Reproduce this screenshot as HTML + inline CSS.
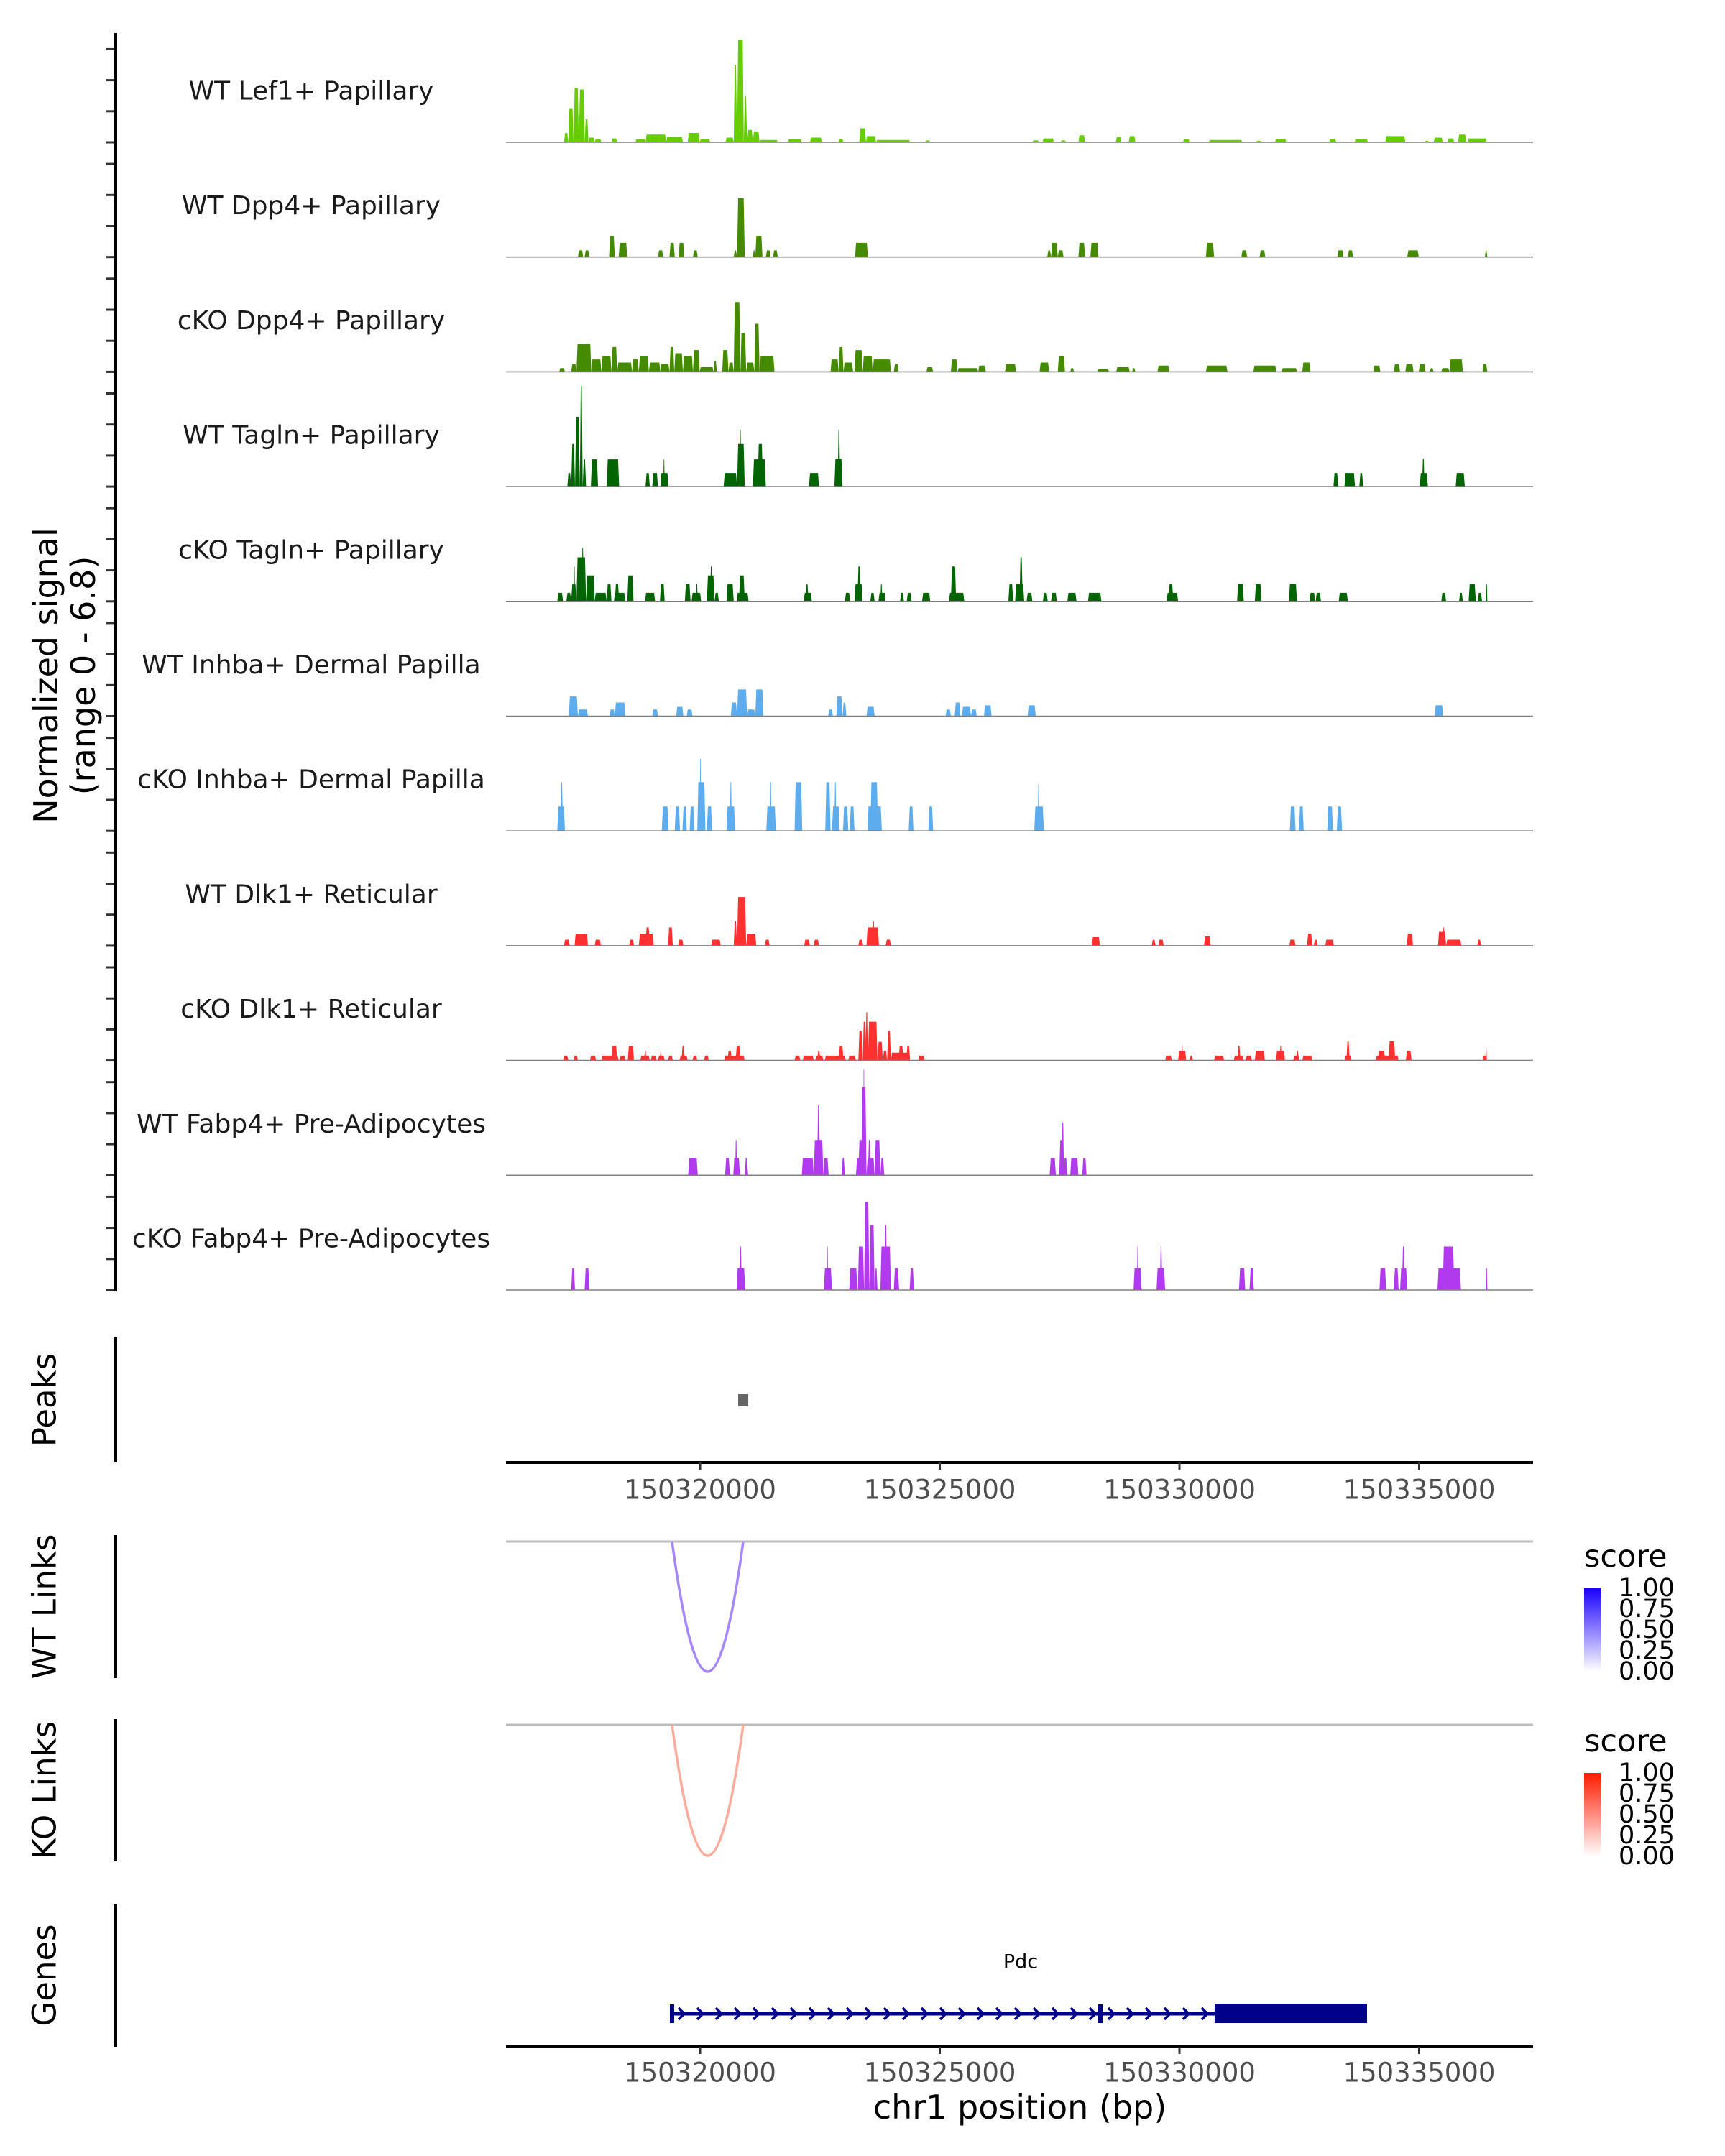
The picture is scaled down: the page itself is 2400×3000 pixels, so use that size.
<!DOCTYPE html>
<html><head><meta charset="utf-8">
<style>
html,body{margin:0;padding:0;background:#fff;}
svg{display:block;font-family:"DejaVu Sans","Liberation Sans",sans-serif;}
</style></head>
<body>
<svg id="chart" width="2400" height="3000" viewBox="0 0 2400 3000" xmlns="http://www.w3.org/2000/svg">
<rect width="2400" height="3000" fill="#fff"/>
<g id="tracks"></g>
<g id="axes"></g>
</svg>
<script>
// Window start in bp; segment positions below are kb offsets from this start
const windowStartBp = 150315892;
const trackNames = ["WT Lef1+ Papillary","WT Dpp4+ Papillary","cKO Dpp4+ Papillary","WT Tagln+ Papillary","cKO Tagln+ Papillary","WT Inhba+ Dermal Papilla","cKO Inhba+ Dermal Papilla","WT Dlk1+ Reticular","cKO Dlk1+ Reticular","WT Fabp4+ Pre-Adipocytes","cKO Fabp4+ Pre-Adipocytes"];
const trackColors = ["#66CD00","#458B00","#458B00","#006400","#006400","#5CACEE","#5CACEE","#FF3030","#FF3030","#B23AEE","#B23AEE"];
const xTicks = [150320000,150325000,150330000,150335000];
const legendTicks = ["1.00","0.75","0.50","0.25","0.00"];
// [startKb, endKb, signal]
const lef1WT = [[1.27,1.36,0.6],[1.36,1.47,2.2],[1.47,1.58,3.5],[1.58,1.70,3.4],[1.70,1.78,1.5],[1.78,1.91,0.3],[1.91,2.05,0.2],[2.26,2.38,0.25],[2.76,2.97,0.2],[2.97,3.40,0.5],[3.40,3.75,0.35],[3.85,4.10,0.6],[4.10,4.32,0.2],[4.64,4.81,0.3],[4.81,4.88,5.0],[4.88,5.02,6.6],[5.02,5.09,3.0],[5.09,5.21,0.8],[5.21,5.35,0.7],[5.35,5.73,0.15],[5.94,6.23,0.2],[6.40,6.65,0.3],[7.00,7.10,0.2],[7.43,7.57,0.9],[7.57,7.78,0.4],[7.78,8.49,0.15],[8.80,8.91,0.12],[11.04,11.18,0.12],[11.25,11.49,0.25],[11.63,11.74,0.12],[12.00,12.14,0.45],[12.78,12.90,0.35],[13.05,13.19,0.4],[14.18,14.32,0.2],[14.72,15.42,0.15],[15.71,15.82,0.1],[16.10,16.34,0.2],[17.23,17.38,0.2],[17.76,18.04,0.2],[18.40,18.82,0.4],[19.22,19.31,0.1],[19.41,19.60,0.3],[19.70,19.84,0.25],[19.92,20.09,0.5],[20.12,20.52,0.25]];
const dpp4WT = [[1.56,1.67,.43],[1.70,1.80,.43],[2.21,2.33,1.37],[2.41,2.59,.92],[3.23,3.34,.43],[3.47,3.58,.92],[3.66,3.78,.92],[3.96,4.06,.43],[4.81,4.88,.43],[4.88,5.04,3.8],[5.21,5.26,.43],[5.26,5.41,1.37],[5.48,5.58,.43],[5.63,5.73,.43],[7.34,7.61,.92],[11.35,11.43,.43],[11.43,11.57,.92],[11.57,11.69,.43],[12.00,12.14,.92],[12.25,12.42,.92],[14.66,14.83,.92],[15.40,15.52,.43],[15.78,15.90,.43],[17.40,17.53,.43],[17.62,17.73,.43],[18.86,19.10,.43],[20.48,20.53,.43]];
const dpp4KO = [[1.17,1.29,.24],[1.42,1.53,.5],[1.53,1.84,1.8],[1.84,2.05,.8],[2.05,2.26,1.0],[2.26,2.38,1.6],[2.38,2.69,.6],[2.69,2.83,.8],[2.83,3.04,1.0],[3.04,3.28,.6],[3.28,3.47,.5],[3.47,3.57,1.6],[3.57,3.75,1.2],[3.75,3.96,1.0],[3.96,4.10,1.4],[4.10,4.39,.3],[4.39,4.46,.7],[4.57,4.70,1.4],[4.70,4.81,.6],[4.81,4.95,4.5],[4.95,5.07,2.5],[5.07,5.24,.6],[5.24,5.35,3.1],[5.35,5.66,1.0],[6.83,7.00,.8],[7.00,7.10,1.6],[7.10,7.30,.6],[7.33,7.50,1.4],[7.50,7.71,1.0],[7.71,8.09,.8],[8.15,8.25,.5],[8.83,8.97,.3],[9.34,9.48,.8],[9.48,9.91,.24],[9.91,10.07,.4],[10.47,10.70,.5],[11.19,11.39,.6],[11.57,11.72,1.0],[11.83,11.91,.24],[12.40,12.64,.2],[12.79,13.07,.3],[13.12,13.19,.24],[13.65,13.90,.4],[14.66,15.11,.4],[15.65,16.13,.4],[16.24,16.56,.24],[16.67,16.84,.6],[18.15,18.30,.4],[18.58,18.71,.5],[18.82,18.99,.5],[19.10,19.24,.5],[19.33,19.41,.24],[19.57,19.74,.24],[19.74,20.02,.8],[20.43,20.53,.5]];
const taglnWT = [[1.34,1.42,.88],[1.42,1.50,2.75],[1.50,1.60,4.5],[1.60,1.66,6.5],[1.66,1.73,1.76],[1.83,1.98,1.76],[2.16,2.42,1.76],[2.97,3.06,.88],[3.11,3.23,.88],[3.28,3.45,.88],[3.34,3.37,1.76],[4.60,4.88,.88],[4.88,5.04,2.75],[4.92,4.97,3.67],[5.21,5.48,1.76],[5.31,5.42,2.75],[6.38,6.59,.88],[6.91,7.08,1.8],[6.98,7.03,3.67],[17.32,17.42,.88],[17.55,17.77,.88],[17.86,17.94,.88],[19.12,19.29,.88],[19.17,19.22,1.8],[19.87,20.06,.88]];
const taglnKO = [[1.13,1.25,.55],[1.32,1.42,.55],[1.42,1.53,1.12],[1.47,1.50,2.25],[1.53,1.73,2.84],[1.64,1.68,3.43],[1.73,1.91,1.67],[1.91,2.16,.55],[2.16,2.26,1.12],[2.31,2.55,.55],[2.33,2.42,1.12],[2.59,2.72,1.67],[2.96,3.17,.55],[3.27,3.37,1.12],[3.79,3.91,1.12],[3.93,4.13,.55],[4.02,4.06,1.12],[4.25,4.41,1.67],[4.32,4.36,2.25],[4.41,4.50,.55],[4.66,4.81,1.12],[4.87,5.12,.55],[4.92,5.04,1.67],[6.27,6.44,.55],[6.31,6.37,1.12],[7.13,7.24,.55],[7.33,7.50,1.12],[7.39,7.46,2.25],[7.66,7.75,.55],[7.83,7.98,.55],[7.87,7.91,1.12],[8.28,8.36,.55],[8.42,8.52,.55],[8.74,8.91,.55],[9.30,9.62,.55],[9.34,9.45,2.25],[10.54,10.64,1.12],[10.68,10.87,1.12],[10.77,10.84,2.84],[10.92,11.04,.55],[11.26,11.36,.55],[11.43,11.55,.55],[11.77,11.96,.55],[12.20,12.48,.55],[13.84,14.08,.55],[13.88,13.98,1.12],[15.31,15.45,1.12],[15.68,15.82,1.12],[16.39,16.56,1.12],[16.82,16.94,.55],[16.95,17.06,.55],[17.43,17.62,.55],[19.57,19.67,.55],[19.94,20.02,.55],[20.14,20.29,1.12],[20.33,20.42,.55],[20.50,20.53,1.12]];
const inhbaWT = [[1.37,1.56,1.27],[1.56,1.77,.43],[2.22,2.33,.43],[2.33,2.55,.88],[3.11,3.23,.43],[3.61,3.76,.6],[3.83,3.95,.43],[4.75,4.88,.88],[4.88,5.09,1.72],[5.09,5.26,.43],[5.26,5.43,1.72],[6.78,6.88,.43],[6.95,7.08,1.27],[7.08,7.16,.88],[7.58,7.75,.6],[9.23,9.34,.43],[9.42,9.54,.88],[9.57,9.76,.6],[9.76,9.88,.43],[10.03,10.19,.7],[10.94,11.11,.7],[19.43,19.61,.7]];
const inhbaKO = [[1.13,1.29,1.57],[1.19,1.25,3.14],[3.31,3.45,1.57],[3.58,3.69,1.57],[3.74,3.83,1.57],[3.89,3.99,1.57],[4.05,4.22,3.14],[4.10,4.13,4.65],[4.25,4.36,1.57],[4.66,4.84,1.57],[4.73,4.77,3.14],[5.49,5.69,1.57],[5.56,5.60,3.14],[6.08,6.24,3.14],[6.72,6.83,3.14],[6.86,7.02,1.57],[6.91,6.95,3.14],[7.09,7.20,1.57],[7.23,7.33,1.57],[7.60,7.90,1.57],[7.66,7.82,3.14],[8.46,8.56,1.57],[8.87,8.97,1.57],[11.08,11.28,1.57],[11.15,11.19,3.0],[16.41,16.53,1.57],[16.60,16.70,1.57],[17.19,17.31,1.57],[17.39,17.50,1.57]];
const dlk1WT = [[1.27,1.39,.39],[1.49,1.77,.78],[1.91,2.04,.39],[2.63,2.73,.39],[2.83,3.14,.78],[2.97,3.06,1.18],[3.44,3.54,1.18],[3.65,3.76,.39],[4.34,4.54,.39],[4.81,4.88,1.57],[4.88,5.07,3.14],[5.07,5.28,.78],[5.46,5.56,.39],[6.28,6.40,.39],[6.48,6.59,.39],[7.41,7.51,.39],[7.58,7.84,1.18],[7.70,7.75,1.57],[7.98,8.09,.39],[12.28,12.45,.55],[13.53,13.61,.39],[13.67,13.78,.39],[14.62,14.76,.6],[16.40,16.53,.39],[16.77,16.88,.78],[16.91,16.99,.39],[17.15,17.33,.39],[18.85,18.98,.78],[19.50,19.67,.9],[19.60,19.64,1.18],[19.67,19.99,.39],[20.32,20.40,.39]];
const dlk1KO = [[1.25,1.36,.31],[1.47,1.56,.31],[1.81,1.94,.31],[2.05,2.41,.31],[2.26,2.38,.94],[2.43,2.55,.31],[2.60,2.73,.94],[2.86,3.06,.31],[2.94,2.99,.62],[3.08,3.20,.31],[3.23,3.37,.31],[3.27,3.31,.62],[3.44,3.54,.31],[3.68,3.85,.31],[3.72,3.79,.94],[3.95,4.05,.31],[4.19,4.29,.31],[4.61,5.04,.31],[4.68,4.77,.62],[4.85,4.95,.94],[6.08,6.20,.31],[6.25,6.48,.31],[6.51,6.68,.31],[6.55,6.62,.62],[6.71,7.15,.31],[7.00,7.10,.94],[7.20,7.36,.31],[7.41,7.50,1.9],[7.50,7.58,2.5],[7.56,7.61,3.1],[7.61,7.81,2.5],[7.81,7.92,1.2],[7.92,8.01,.62],[8.01,8.09,1.9],[8.09,8.49,.5],[8.25,8.35,.94],[8.41,8.49,.94],[8.66,8.79,.31],[13.81,13.95,.31],[14.08,14.25,.62],[14.15,14.18,.94],[14.32,14.39,.31],[14.83,15.04,.31],[15.24,15.45,.31],[15.32,15.38,.94],[15.49,15.62,.31],[15.68,15.89,.62],[16.12,16.31,.62],[16.20,16.24,.94],[16.48,16.61,.31],[16.54,16.60,.62],[16.67,16.88,.31],[17.55,17.70,.31],[17.59,17.66,1.25],[18.20,18.68,.31],[18.25,18.40,.62],[18.47,18.61,1.25],[18.83,18.95,.62],[20.43,20.52,.31],[20.49,20.52,.9]];
const fabp4WT = [[3.86,4.06,1.1],[4.63,4.73,1.1],[4.80,4.94,1.1],[4.84,4.88,2.27],[5.04,5.11,1.1],[6.23,6.48,1.1],[6.48,6.68,2.27],[6.55,6.61,4.5],[6.68,6.79,1.1],[7.06,7.13,1.1],[7.36,7.47,1.1],[7.41,7.50,2.27],[7.47,7.58,5.66],[7.51,7.54,6.8],[7.58,7.75,1.1],[7.61,7.67,2.27],[7.75,7.87,2.27],[7.87,7.95,1.1],[11.40,11.53,1.1],[11.60,11.69,2.27],[11.65,11.70,3.4],[11.69,11.77,1.1],[11.83,12.00,1.1],[12.08,12.17,1.1]];
const fabp4KO = [[1.42,1.50,1.4],[1.70,1.80,1.4],[4.87,5.05,1.4],[4.92,4.98,2.8],[6.69,6.86,1.4],[6.75,6.78,2.8],[7.22,7.39,1.4],[7.40,7.53,2.8],[7.53,7.64,5.67],[7.64,7.75,4.2],[7.75,7.81,1.4],[7.87,8.09,2.8],[7.95,8.01,4.2],[8.15,8.26,1.4],[8.48,8.57,1.4],[13.15,13.32,1.4],[13.22,13.26,2.8],[13.63,13.81,1.4],[13.70,13.75,2.8],[15.35,15.48,1.4],[15.57,15.66,1.4],[18.28,18.42,1.4],[18.58,18.68,1.4],[18.71,18.86,1.4],[18.75,18.81,2.8],[19.49,19.98,1.4],[19.60,19.84,2.8],[20.50,20.53,1.4]];
const trackData = [lef1WT,dpp4WT,dpp4KO,taglnWT,taglnKO,inhbaWT,inhbaKO,dlk1WT,dlk1KO,fabp4WT,fabp4KO];
const peakRegions = [[150320795,150321005]];
const wtLinks = [[150319415,150320900,0.45]];
const koLinks = [[150319415,150320900,0.35]];
const geneStart = 150319415, geneEnd = 150333913, cdsStart = 150330734, exonMid = 150328351;

const NS = "http://www.w3.org/2000/svg";
const PL = 704, PR = 2133;
function xs(bp){ return 974 + (bp - 150320000) * 0.0667; }
function xk(kb){ return xs(windowStartBp + kb * 1000); }
const baseY0 = 198, trackStep = 159.7, unitPx = 21.6;
function yv(base, v){ return base - v * unitPx; }
function mk(tag, attrs, parent){
  const e = document.createElementNS(NS, tag);
  for (const k in attrs) e.setAttribute(k, attrs[k]);
  parent.appendChild(e); return e;
}
const gT = document.getElementById('tracks');
const gA = document.getElementById('axes');

trackData.forEach((segs, ti) => {
  const base = baseY0 + ti * trackStep;
  const g = mk('g', {}, gT);
  
  
  segs.forEach(s => {
    const x1 = xk(s[0]), x2 = xk(s[1]), top = yv(base, s[2]);
    const sl = Math.min(1.5, (x2 - x1) / 3);
    const p = mk('polygon', {points: `${x1},${base} ${x1+sl},${top} ${x2-sl},${top} ${x2},${base}`, fill: trackColors[ti]}, g);
    
    
  });
  const bl = mk('line', {x1: PL, x2: PR, y1: base, y2: base, stroke: '#808080', 'stroke-width': 1.6}, g);
  
  
  const lb = mk('text', {x: 433, y: base - 71, 'text-anchor': 'middle', 'dominant-baseline': 'central', 'font-size': 36, fill: '#1a1a1a'}, g);
  lb.textContent = trackNames[ti];
  
  
  [0, 2, 4, 6].forEach(v => {
    const ty = yv(base, v);
    const t = mk('line', {x1: 148, x2: 160, y1: ty, y2: ty, stroke: '#333', 'stroke-width': 3}, g);
    
    
  });
});
let ax = mk('line', {x1: 161, x2: 161, y1: 46, y2: 1797, stroke: '#000', 'stroke-width': 4}, gA);


let yt = mk('text', {transform: 'translate(64,940) rotate(-90)', 'text-anchor': 'middle', 'dominant-baseline': 'central', 'font-size': 46, fill: '#000'}, gA);
yt.textContent = 'Normalized signal';


let yt2 = mk('text', {transform: 'translate(116,940) rotate(-90)', 'text-anchor': 'middle', 'dominant-baseline': 'central', 'font-size': 46, fill: '#000'}, gA);
yt2.textContent = '(range 0 - 6.8)';



function panel(label, y1, y2, name){
  const l = mk('line', {x1: 161, x2: 161, y1: y1, y2: y2, stroke: '#000', 'stroke-width': 4}, gA);
  
  
  const t = mk('text', {transform: `translate(62,${(y1+y2)/2}) rotate(-90)`, 'text-anchor': 'middle', 'dominant-baseline': 'central', 'font-size': 45, fill: '#000'}, gA);
  t.textContent = label;
  
  
}
panel('Peaks', 1861, 2035, 'peaks');
panel('WT Links', 2136, 2335, 'wt-links');
panel('KO Links', 2392, 2590, 'ko-links');
panel('Genes', 2649, 2848, 'genes');

peakRegions.forEach(p => {
  const r = mk('rect', {x: xs(p[0]), y: 1940, width: xs(p[1]) - xs(p[0]), height: 17, fill: '#666'}, gA);
  
  
});

function xAxis(y, ly, name){
  const l = mk('line', {x1: PL, x2: PR, y1: y, y2: y, stroke: '#000', 'stroke-width': 4}, gA);
  
  
  xTicks.forEach(t => {
    const tk = mk('line', {x1: xs(t), x2: xs(t), y1: y, y2: y + 10, stroke: '#333', 'stroke-width': 3}, gA);
    
    
    const tx = mk('text', {x: xs(t), y: ly, 'text-anchor': 'middle', 'dominant-baseline': 'central', 'font-size': 37, fill: '#4d4d4d'}, gA);
    tx.textContent = t;
    
    
  });
}
xAxis(2035, 2073, 'x-axis-top');
xAxis(2848, 2884, 'x-axis-bottom');
let xt = mk('text', {x: 1419, y: 2932, 'text-anchor': 'middle', 'dominant-baseline': 'central', 'font-size': 46, fill: '#000'}, gA);
xt.textContent = 'chr1 position (bp)';



function links(data, grayY, bottomY, rgb, name){
  const gl = mk('line', {x1: PL, x2: PR, y1: grayY, y2: grayY, stroke: '#bebebe', 'stroke-width': 3}, gA);
  
  
  data.forEach(d => {
    const a = xs(d[0]), b = xs(d[1]), m = (a + b) / 2;
    const cy = 2 * bottomY - grayY;
    const a1 = 1 - d[2];
    const col = `rgb(${Math.round(rgb[0] + (255 - rgb[0]) * a1 * 0.85)},${Math.round(rgb[1] + (255 - rgb[1]) * a1 * 0.85)},${Math.round(rgb[2] + (255 - rgb[2]) * a1 * 0.85)})`;
    const p = mk('path', {d: `M${a},${grayY} Q${m},${cy} ${b},${grayY}`, fill: 'none', stroke: col, 'stroke-width': 3.5}, gA);
    
    
  });
}
links(wtLinks, 2145, 2326, [90, 30, 255], 'wt-links');
links(koLinks, 2400, 2582, [255, 70, 40], 'ko-links');

function legend(ty, by, c1, name){
  const id = 'grad-' + name;
  const defs = mk('defs', {}, gA);
  const lg = mk('linearGradient', {id: id, x1: 0, y1: 1, x2: 0, y2: 0}, defs);
  mk('stop', {offset: 0, 'stop-color': '#ffffff'}, lg);
  mk('stop', {offset: 1, 'stop-color': c1}, lg);
  const t = mk('text', {x: 2204, y: ty, 'dominant-baseline': 'central', 'font-size': 43, fill: '#000'}, gA);
  t.textContent = 'score';
  
  
  const r = mk('rect', {x: 2204, y: by, width: 23, height: 116, fill: `url(#${id})`}, gA);
  
  
  legendTicks.forEach((lab, i) => {
    const yy = by + i * 29;
    const tt = mk('text', {x: 2252, y: yy, 'dominant-baseline': 'central', 'font-size': 35, fill: '#000'}, gA);
    tt.textContent = lab;
    
    
  });
}
legend(2166, 2210, '#1a00ff', 'wt-legend');
legend(2423, 2467, '#ff1a00', 'ko-legend');

const gg = mk('g', {}, gA);


const gy = 2802, navy = '#00008B';
mk('line', {x1: xs(geneStart), x2: xs(geneEnd), y1: gy, y2: gy, stroke: navy, 'stroke-width': 5}, gg);
mk('rect', {x: xs(cdsStart), y: 2788, width: xs(geneEnd) - xs(cdsStart), height: 27, fill: navy}, gg);
mk('rect', {x: xs(geneStart) - 3, y: 2789, width: 6, height: 26, fill: navy}, gg);
mk('rect', {x: xs(exonMid) - 3, y: 2789, width: 6, height: 26, fill: navy}, gg);
for (let x = xs(geneStart) + 14; x < xs(cdsStart) - 4; x += 26) {
  mk('polyline', {points: `${x-5},${gy-8} ${x+3},${gy} ${x-5},${gy+8}`, fill: 'none', stroke: navy, 'stroke-width': 3.5}, gg);
}
const gl = mk('text', {x: 1420, y: 2730, 'text-anchor': 'middle', 'dominant-baseline': 'central', 'font-size': 27, fill: '#000'}, gg);
gl.textContent = 'Pdc';


</script>
</body></html>
